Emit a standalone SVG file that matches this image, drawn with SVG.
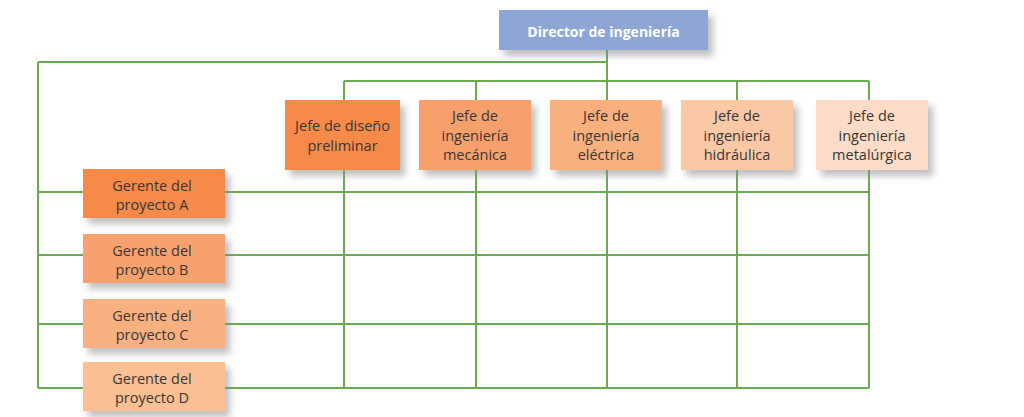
<svg xmlns="http://www.w3.org/2000/svg" width="1024" height="417" viewBox="0 0 1024 417">
<defs>
<filter id="sh" x="-20%" y="-20%" width="150%" height="160%">
<feDropShadow dx="5" dy="6" stdDeviation="3.5" flood-color="#8a8a8a" flood-opacity="0.55"/>
</filter>
<style>
.ln{stroke:#6aab52;stroke-width:2;fill:none}
.box{filter:url(#sh)}
.t{font-family:"Open Sans","Liberation Sans",sans-serif;font-size:14.5px;fill:#3a3735;text-anchor:middle}
.td{font-family:"Open Sans","Liberation Sans",sans-serif;font-size:14px;font-weight:bold;fill:#ffffff;text-anchor:middle}
</style>
</defs>
<rect width="1024" height="417" fill="#ffffff"/>
<g id="connectors">
<path class="ln" d="M607 50V81M38 62H607M38 62V388M344 81H869M344 81V388M476 81V388M607 81V388M737 81V388M869 81V388M38 192H869M38 255H869M38 324H869M38 388H869"/>
</g>
<g id="director">
<rect class="box" x="499" y="10" width="209" height="40" fill="#8ea6d6"/>
<text class="td" x="603.5" y="36.5">Director de ingeniería</text>
</g>
<g id="jefe-diseno">
<rect class="box" x="285" y="100" width="115" height="70" fill="#f58a48"/>
<text class="t" x="342.5" y="131">Jefe de diseño</text>
<text class="t" x="342.5" y="151">preliminar</text>
</g>
<g id="jefe-mecanica">
<rect class="box" x="419" y="100" width="112" height="70" fill="#f7a06c"/>
<text class="t" x="475" y="121">Jefe de</text>
<text class="t" x="475" y="140.5">ingeniería</text>
<text class="t" x="475" y="160">mecánica</text>
</g>
<g id="jefe-electrica">
<rect class="box" x="550" y="100" width="112" height="70" fill="#f8b07f"/>
<text class="t" x="606" y="121">Jefe de</text>
<text class="t" x="606" y="140.5">ingeniería</text>
<text class="t" x="606" y="160">eléctrica</text>
</g>
<g id="jefe-hidraulica">
<rect class="box" x="681" y="100" width="112" height="70" fill="#fac8a5"/>
<text class="t" x="737" y="121">Jefe de</text>
<text class="t" x="737" y="140.5">ingeniería</text>
<text class="t" x="737" y="160">hidráulica</text>
</g>
<g id="jefe-metalurgica">
<rect class="box" x="816" y="100" width="112" height="70" fill="#fcdcc6"/>
<text class="t" x="872" y="121">Jefe de</text>
<text class="t" x="872" y="140.5">ingeniería</text>
<text class="t" x="872" y="160">metalúrgica</text>
</g>
<g id="gerente-a">
<rect class="box" x="83" y="169" width="142" height="49" fill="#f58a48"/>
<text class="t" x="152" y="190.5">Gerente del</text>
<text class="t" x="152" y="210">proyecto A</text>
</g>
<g id="gerente-b">
<rect class="box" x="83" y="234" width="142" height="49" fill="#f7a26e"/>
<text class="t" x="152" y="255.5">Gerente del</text>
<text class="t" x="152" y="275">proyecto B</text>
</g>
<g id="gerente-c">
<rect class="box" x="83" y="299" width="142" height="49" fill="#f8b080"/>
<text class="t" x="152" y="320.5">Gerente del</text>
<text class="t" x="152" y="340">proyecto C</text>
</g>
<g id="gerente-d">
<rect class="box" x="83" y="362" width="142" height="49" fill="#fbbf94"/>
<text class="t" x="152" y="383.5">Gerente del</text>
<text class="t" x="152" y="403">proyecto D</text>
</g>
</svg>
